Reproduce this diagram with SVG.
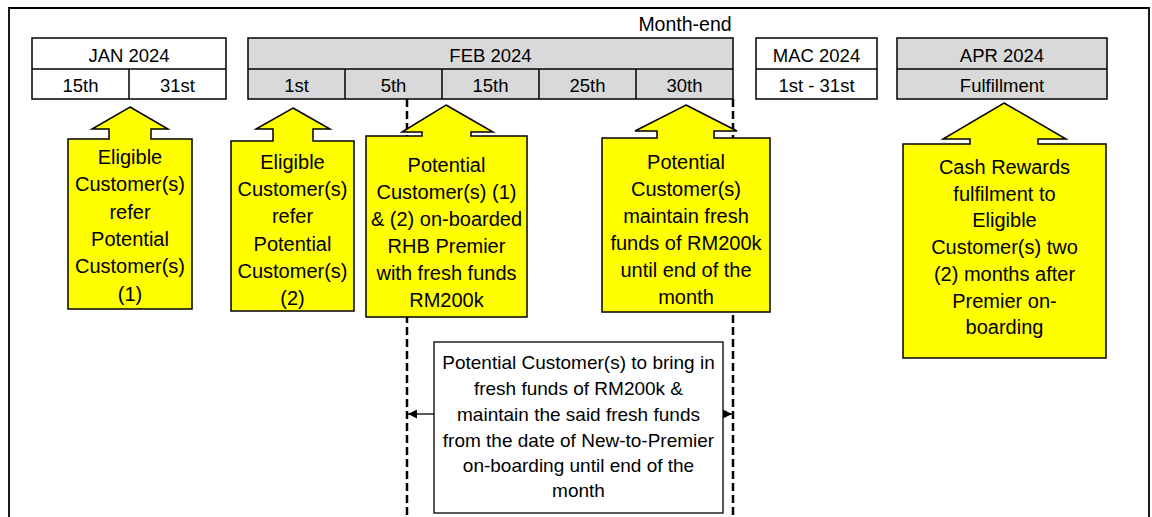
<svg xmlns="http://www.w3.org/2000/svg" width="1152" height="517" viewBox="0 0 1152 517">
<defs>
<style>
text{font-family:"Liberation Sans",Arial,sans-serif;fill:#000;text-anchor:middle}
.hd{font-size:18.5px}
.me{font-size:19.5px}
.co{font-size:20px}
.bx{font-size:19px}
.cell{stroke:#000;stroke-width:1.5}
.w{fill:#fff}
.g{fill:#d9d9d9}
.call{fill:#ffff00;stroke:#000;stroke-width:1.5;stroke-linejoin:miter}
.dash{stroke:#000;stroke-width:2.5;stroke-dasharray:8 4;fill:none}
.conn{stroke:#000;stroke-width:1.3;fill:none}
</style>
<marker id="ah" viewBox="0 0 10 10" refX="10" refY="5" markerWidth="9" markerHeight="9" markerUnits="userSpaceOnUse" orient="auto">
<path d="M0,0 L10,5 L0,10 Z" fill="#000"/>
</marker>
</defs>
<rect width="1152" height="517" fill="#fff"/>
<path d="M9,517 L9,8 L1149,8 L1149,517" fill="none" stroke="#000" stroke-width="1.8"/>
<text class="me" x="685" y="31">Month-end</text>

<g id="jan">
<rect class="cell w" x="32" y="38" width="194" height="61"/>
<line class="cell" x1="32" y1="69" x2="226" y2="69"/>
<line class="cell" x1="129" y1="69" x2="129" y2="99"/>
<text class="hd" x="129" y="62">JAN 2024</text>
<text class="hd" x="80.5" y="92">15th</text>
<text class="hd" x="177.5" y="92">31st</text>
</g>

<g id="feb">
<rect class="cell g" x="248" y="38" width="485" height="61"/>
<line class="cell" x1="248" y1="69" x2="733" y2="69"/>
<line class="cell" x1="345" y1="69" x2="345" y2="99"/>
<line class="cell" x1="442" y1="69" x2="442" y2="99"/>
<line class="cell" x1="539" y1="69" x2="539" y2="99"/>
<line class="cell" x1="636" y1="69" x2="636" y2="99"/>
<text class="hd" x="490.5" y="62">FEB 2024</text>
<text class="hd" x="296.5" y="92">1st</text>
<text class="hd" x="393.5" y="92">5th</text>
<text class="hd" x="490.5" y="92">15th</text>
<text class="hd" x="587.5" y="92">25th</text>
<text class="hd" x="684.5" y="92">30th</text>
</g>

<g id="mac">
<rect class="cell w" x="756" y="38" width="121" height="61"/>
<line class="cell" x1="756" y1="69" x2="877" y2="69"/>
<text class="hd" x="816.5" y="62">MAC 2024</text>
<text class="hd" x="816.5" y="92">1st - 31st</text>
</g>

<g id="apr">
<rect class="cell g" x="897" y="38" width="210" height="61"/>
<line class="cell" x1="897" y1="69" x2="1107" y2="69"/>
<text class="hd" x="1002" y="62">APR 2024</text>
<text class="hd" x="1002" y="92">Fulfillment</text>
</g>

<g id="connectors">
<line class="dash" x1="407" y1="99" x2="407" y2="517"/>
<line class="dash" x1="733" y1="99" x2="733" y2="517"/>
<line class="conn" x1="434" y1="414" x2="408" y2="414" marker-end="url(#ah)"/>
<line class="conn" x1="723" y1="414" x2="732" y2="414" marker-end="url(#ah)"/>
</g>

<g id="callout1">
<path class="call" d="M130,107 L168,129 L151,129 L151,139 L192,139 L192,309 L68,309 L68,139 L109,139 L109,129 L92,129 Z"/>
<text class="co" x="130" y="164">Eligible</text>
<text class="co" x="130" y="191.3">Customer(s)</text>
<text class="co" x="130" y="218.6">refer</text>
<text class="co" x="130" y="246">Potential</text>
<text class="co" x="130" y="273.2">Customer(s)</text>
<text class="co" x="130" y="300.5">(1)</text>
</g>

<g id="callout2">
<path class="call" d="M293,108 L330,129 L313,129 L313,141 L354,141 L354,311 L231,311 L231,141 L273,141 L273,129 L256,129 Z"/>
<text class="co" x="292.5" y="169">Eligible</text>
<text class="co" x="292.5" y="196.2">Customer(s)</text>
<text class="co" x="292.5" y="223.4">refer</text>
<text class="co" x="292.5" y="250.6">Potential</text>
<text class="co" x="292.5" y="277.8">Customer(s)</text>
<text class="co" x="292.5" y="305">(2)</text>
</g>

<g id="callout3">
<path class="call" d="M446,105 L493,132 L471,132 L471,136 L527,136 L527,317 L366,317 L366,136 L422,136 L422,132 L402,132 Z"/>
<text class="co" x="446.5" y="172">Potential</text>
<text class="co" x="446.5" y="199">Customer(s) (1)</text>
<text class="co" x="446.5" y="226">&amp; (2) on-boarded</text>
<text class="co" x="446.5" y="253">RHB Premier</text>
<text class="co" x="446.5" y="280">with fresh funds</text>
<text class="co" x="446.5" y="307">RM200k</text>
</g>

<g id="callout4">
<path class="call" d="M686,105 L737,131 L714,131 L714,138 L770,138 L770,312 L602,312 L602,138 L657,138 L657,131 L635,131 Z"/>
<text class="co" x="686" y="169">Potential</text>
<text class="co" x="686" y="196">Customer(s)</text>
<text class="co" x="686" y="223">maintain fresh</text>
<text class="co" x="686" y="250">funds of RM200k</text>
<text class="co" x="686" y="277">until end of the</text>
<text class="co" x="686" y="304">month</text>
</g>

<g id="callout5">
<path class="call" d="M1004,103 L1066,139 L1038,139 L1038,144 L1106,144 L1106,358 L903,358 L903,144 L970,144 L970,139 L943,139 Z"/>
<text class="co" x="1004.5" y="174">Cash Rewards</text>
<text class="co" x="1004.5" y="200.7">fulfilment to</text>
<text class="co" x="1004.5" y="227.4">Eligible</text>
<text class="co" x="1004.5" y="254.1">Customer(s) two</text>
<text class="co" x="1004.5" y="280.8">(2) months after</text>
<text class="co" x="1004.5" y="307.5">Premier on-</text>
<text class="co" x="1004.5" y="334.2">boarding</text>
</g>

<g id="note">
<rect x="434" y="342" width="289" height="171" fill="#fff" stroke="#000" stroke-width="1.3"/>
<text class="bx" x="578.5" y="369">Potential Customer(s) to bring in</text>
<text class="bx" x="578.5" y="395">fresh funds of RM200k &amp;</text>
<text class="bx" x="578.5" y="421">maintain the said fresh funds</text>
<text class="bx" x="578.5" y="447">from the date of New-to-Premier</text>
<text class="bx" x="578.5" y="472">on-boarding until end of the</text>
<text class="bx" x="578.5" y="497">month</text>
</g>
</svg>
